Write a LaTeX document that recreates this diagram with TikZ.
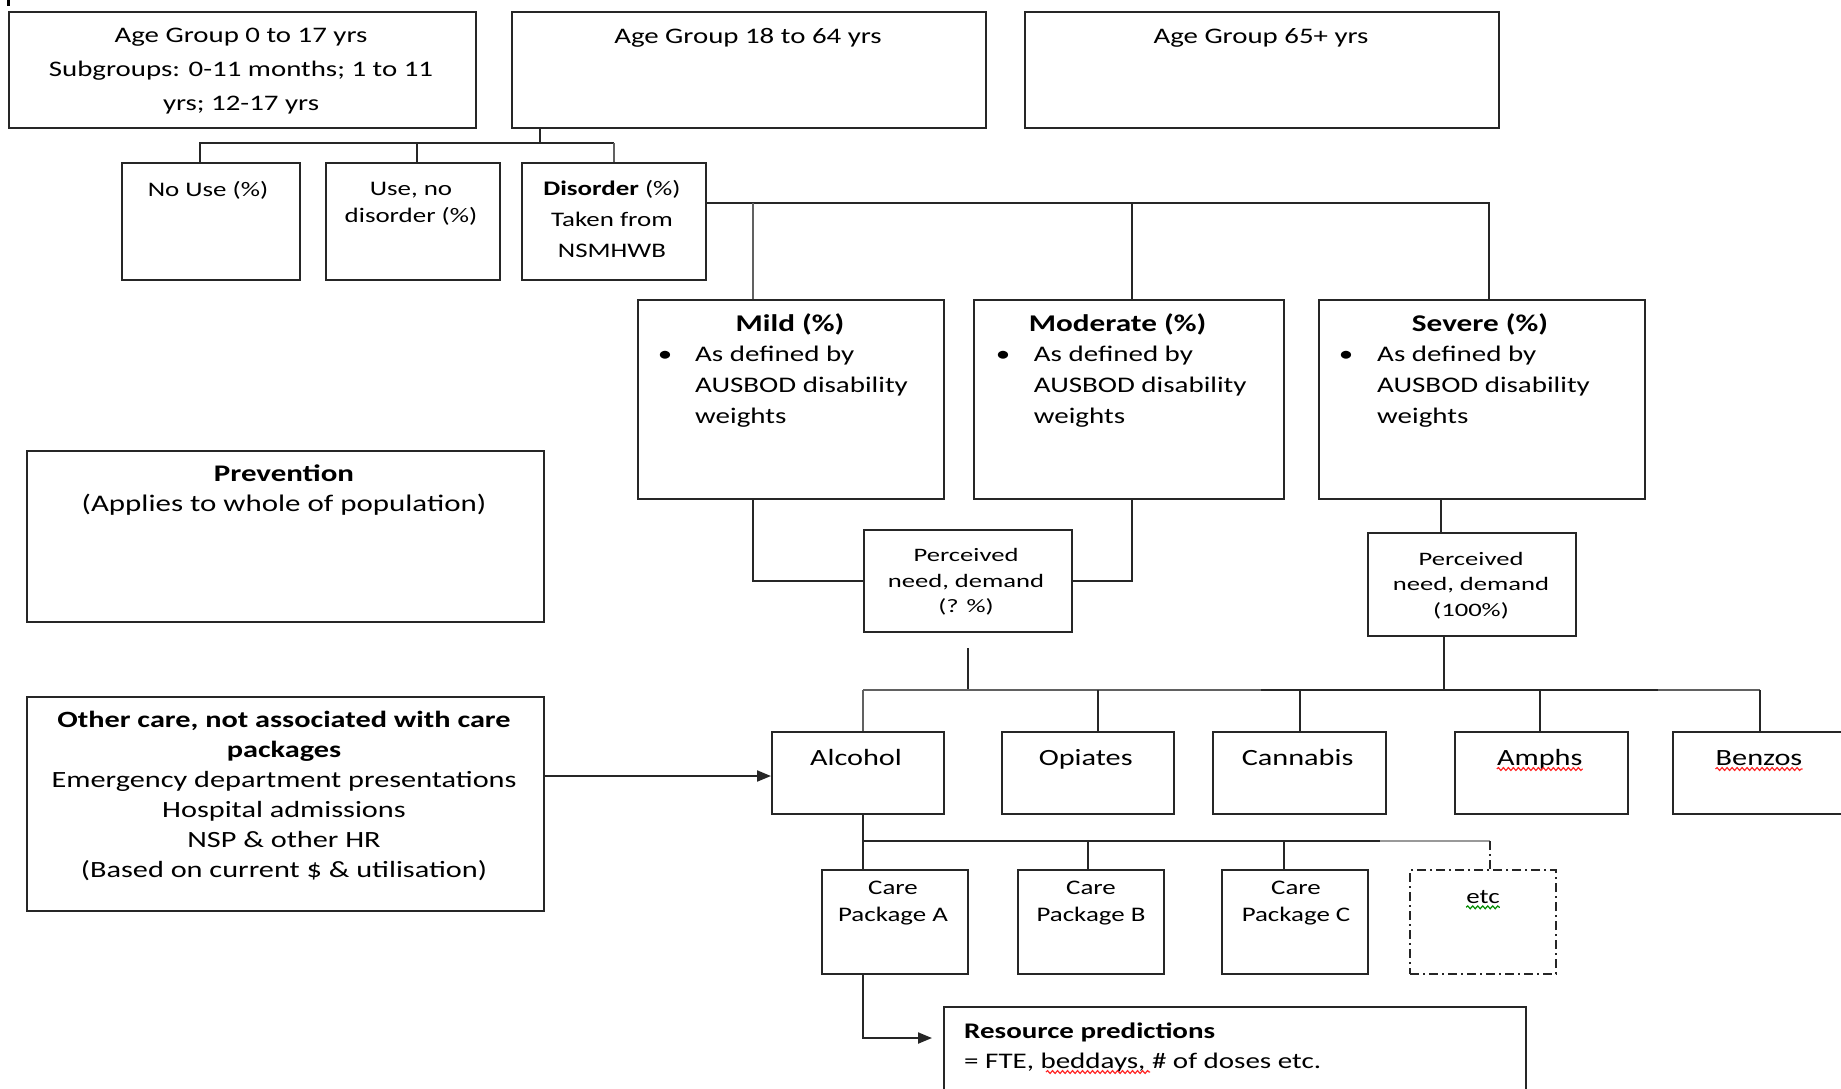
\documentclass[tikz,border=0pt]{standalone}
\usepackage{fontspec}
\setmainfont{Carlito}[FakeStretch=1.3]
\newfontfamily\percfont{Carlito}[FakeStretch=1.4]
\usetikzlibrary{fit,arrows.meta,decorations.pathmorphing}
\newcommand\fsz[2]{\fontsize{#1}{#2}\selectfont}
\begin{document}
\begin{tikzpicture}[x=1pt,y=-1pt,
 box/.style={draw=black!85,line width=2pt,inner sep=0pt},
 dbox/.style={box,dash pattern=on 9pt off 4pt on 2pt off 4pt},
 conn/.style={draw=black!85,line width=2pt},
 gconn/.style={draw=black!62,line width=2.4pt},
 lconn/.style={draw=black!40,line width=2pt},
 arr/.style={conn,-{Triangle[length=14pt,width=11pt]}},
 txt/.style={inner sep=0pt,align=center,text=black},
 ltxt/.style={inner sep=0pt,align=left,text=black},
 wavy/.style={draw=red!85,line width=1.2pt,decorate,decoration={snake,amplitude=1.4pt,segment length=5pt}},
]
\fill[white] (0,0) rectangle (1841,1088);
\useasboundingbox (0,0) rectangle (1841,1088);
\clip (0,0) rectangle (1841,1088);
\draw[line width=3pt] (8,0) -- (8,6);

% boxes
\node[box,fit={(9,12)(476,128)}] (age0) {};
\node[box,fit={(512,12)(986,128)}] (age18) {};
\node[box,fit={(1025,12)(1499,128)}] (age65) {};
\node[box,fit={(122,163)(300,280)}] (nouse) {};
\node[box,fit={(326,163)(500,280)}] (usenod) {};
\node[box,fit={(522,163)(706,280)}] (disorder) {};
\node[box,fit={(638,300)(944,499)}] (mild) {};
\node[box,fit={(974,300)(1284,499)}] (moderate) {};
\node[box,fit={(1319,300)(1645,499)}] (severe) {};
\node[box,fit={(864,530)(1072,632)}] (perc1) {};
\node[box,fit={(1368,533)(1576,636)}] (perc2) {};
\node[box,fit={(27,451)(544,622)}] (prev) {};
\node[box,fit={(27,697)(544,911)}] (other) {};
\node[box,fit={(772,732)(944,814)}] (alcohol) {};
\node[box,fit={(1002,732)(1174,814)}] (opiates) {};
\node[box,fit={(1213,732)(1386,814)}] (cannabis) {};
\node[box,fit={(1455,732)(1628,814)}] (amphs) {};
\node[box,fit={(1673,732)(1849,814)}] (benzos) {};
\node[box,fit={(822,870)(968,974)}] (careA) {};
\node[box,fit={(1018,870)(1164,974)}] (careB) {};
\node[box,fit={(1222,870)(1368,974)}] (careC) {};
\node[dbox,fit={(1410,870)(1556,974)}] (etc) {};
\node[box,fit={(944,1007)(1526,1100)}] (resource) {};

% texts
\node[txt,anchor=north,font=\fsz{22.2}{33.7}] (age0t) at (241,19.1) {\strut Age Group 0 to 17 yrs\\Subgroups: 0-11 months; 1 to 11\\yrs; 12-17 yrs};
\node[txt,anchor=base,font=\fsz{22.2}{33.7}] (age18t) at (748,43) {Age Group 18 to 64 yrs};
\node[txt,anchor=base,font=\fsz{22.2}{33.7}] (age65t) at (1261,43) {Age Group 65+ yrs};
\node[txt,anchor=base,font=\fsz{20.7}{28}] (nouset) at (208,196) {No Use (\%)};
\node[txt,anchor=north,font=\fsz{20.7}{27.7}] (usenodt) at (411,175.6) {\strut Use, no\\disorder (\%)};
\node[txt,anchor=north,font=\fsz{20.7}{31}] (disordert) at (612,173.3) {\strut\textbf{Disorder} (\%)\\Taken from\\NSMHWB};

\node[txt,anchor=base,font=\bfseries\fsz{24}{30}] (mildt) at (790,331.7) {Mild (\%)};
\node[txt,anchor=base,font=\bfseries\fsz{24}{30}] (modt) at (1117.6,331.7) {Moderate (\%)};
\node[txt,anchor=base,font=\bfseries\fsz{24}{30}] (sevt) at (1480,331.7) {Severe (\%)};
\node[txt,anchor=base,font=\fsz{22.3}{31}] (mildb) at (665,361.7) {•};
\node[txt,anchor=base,font=\fsz{22.3}{31}] (modb) at (1003,361.7) {•};
\node[txt,anchor=base,font=\fsz{22.3}{31}] (sevb) at (1346,361.7) {•};
\node[ltxt,anchor=north west,font=\fsz{22.3}{31}] (mildl) at (695,340) {\strut As defined by\\AUSBOD disability\\weights};
\node[ltxt,anchor=north west,font=\fsz{22.3}{31}] (modl) at (1033.7,340) {\strut As defined by\\AUSBOD disability\\weights};
\node[ltxt,anchor=north west,font=\fsz{22.3}{31}] (sevl) at (1377,340) {\strut As defined by\\AUSBOD disability\\weights};

\node[txt,anchor=north,font=\percfont\fsz{19}{25.5}] (perc1t) at (966,543.9) {\strut Perceived\\need, demand\\(? \%)};
\node[txt,anchor=north,font=\percfont\fsz{19}{25.5}] (perc2t) at (1471,547.2) {\strut Perceived\\need, demand\\(100\%)};

\node[txt,anchor=north,font=\fsz{23.8}{29.3}] (prevt) at (284,461.2) {\strut\textbf{Prevention}\\(Applies to whole of population)};
\node[txt,anchor=north,font=\fsz{23.3}{30}] (othert) at (284,706.7) {\strut\textbf{Other care, not associated with care}\\\textbf{packages}\\Emergency department presentations\\Hospital admissions\\NSP \& other HR\\(Based on current \$ \& utilisation)};

\node[txt,anchor=base,font=\fsz{23.3}{30}] (alcoholt) at (856,765) {Alcohol};
\node[txt,anchor=base,font=\fsz{23.3}{30}] (opiatest) at (1085.7,765) {Opiates};
\node[txt,anchor=base,font=\fsz{23.3}{30}] (cannabist) at (1297.6,765) {Cannabis};
\node[txt,anchor=base,font=\fsz{23.3}{30}] (amphst) at (1539.7,765) {Amphs};
\node[txt,anchor=base,font=\fsz{23.3}{30}] (benzost) at (1759,765) {Benzos};

\node[txt,anchor=north,font=\fsz{20.7}{27.7}] (careAt) at (893,874.6) {\strut Care\\Package A};
\node[txt,anchor=north,font=\fsz{20.7}{27.7}] (careBt) at (1091,874.6) {\strut Care\\Package B};
\node[txt,anchor=north,font=\fsz{20.7}{27.7}] (careCt) at (1296,874.6) {\strut Care\\Package C};
\node[txt,anchor=base,font=\fsz{20.7}{28}] (etct) at (1483,903.3) {etc};

\node[ltxt,anchor=north west,font=\fsz{22.3}{30}] (rest) at (964,1017.3) {\strut\textbf{Resource predictions}\\= FTE, beddays, \# of doses etc.};

% spelling marks
\draw[wavy] ([yshift=-4pt]amphst.base west) -- ([yshift=-4pt]amphst.base east);
\draw[wavy] ([yshift=-4pt]benzost.base west) -- ([yshift=-4pt]benzost.base east);
\draw[wavy,draw=green!55!black] ([yshift=-4pt]etct.base west) -- ([yshift=-4pt]etct.base east);
\draw[wavy] (1046,1072) -- (1150,1072);

% age 18-64 tree
\coordinate (jA) at (540,143);
\coordinate (hL) at (200,143);
\coordinate (hM) at (417,143);
\coordinate (hR) at (614,143);
\draw[conn] (age18.south -| jA) -- (jA);
\draw[conn] (nouse.north -| hL) -- (hL) -- (hR);
\draw[conn] (hM) -- (usenod.north -| hM);
\draw[gconn] (hR) -- (disorder.north -| hR);

% disorder tree
\coordinate (dR) at (1489,203);
\coordinate (dM) at (753,203);
\coordinate (dMod) at (1132,203);
\draw[conn] (disorder.east |- dR) -- (dR) -- (severe.north -| dR);
\draw[gconn] (dM) -- (mild.north -| dM);
\draw[conn] (dMod) -- (moderate.north -| dMod);
\draw[conn] (mild.south -| dM) |- (perc1.west);
\draw[conn] (moderate.south -| dMod) |- (perc1.east);
\coordinate (sx) at (1441,0);
\draw[conn] (severe.south -| sx) -- (perc2.north -| sx);

% drug tree
\coordinate (gL) at (863,690);
\coordinate (gR) at (1760,690);
\coordinate (g1) at (968,690);
\coordinate (g2) at (1444,690);
\coordinate (gO) at (1098,690);
\coordinate (gC) at (1300,690);
\coordinate (gA) at (1540,690);
\coordinate (gm1) at (1261,690);
\coordinate (gm2) at (1658,690);
\draw[conn,shorten <=15pt] (perc1.south -| g1) -- (g1);
\draw[conn] (perc2.south -| g2) -- (g2);
\draw[conn] (gL) -- (gR);
\draw[gconn] (gL) -- (gm1);
\draw[gconn] (gm2) -- (gR);
\draw[gconn] (gL) -- (alcohol.north -| gL);
\draw[conn] (gO) -- (opiates.north -| gO);
\draw[conn] (gC) -- (cannabis.north -| gC);
\draw[conn] (gA) -- (amphs.north -| gA);
\draw[conn] (gR) -- (benzos.north -| gR);

% care tree
\coordinate (cL) at (863,841);
\coordinate (cB) at (1087.5,841);
\coordinate (cC) at (1284,841);
\coordinate (cR) at (1490,841);
\coordinate (cG) at (1380,841);
\draw[conn] (alcohol.south -| cL) -- (cL) -- (cG);
\draw[lconn] (cG) -- (cR);
\draw[conn] (cL) -- (careA.north -| cL);
\draw[conn] (cB) -- (careB.north -| cB);
\draw[conn] (cC) -- (careC.north -| cC);
\draw[conn,dash pattern=on 9pt off 4pt on 2pt off 4pt] (cR) -- (etc.north -| cR);

% arrows
\coordinate (rA) at (944,1038);
\draw[arr,shorten >=12pt] (careA.south -| cL) |- (rA);
\coordinate (oA) at (544,776);
\draw[arr] (other.east |- oA) -- (alcohol.west |- oA);
\end{tikzpicture}
\end{document}
